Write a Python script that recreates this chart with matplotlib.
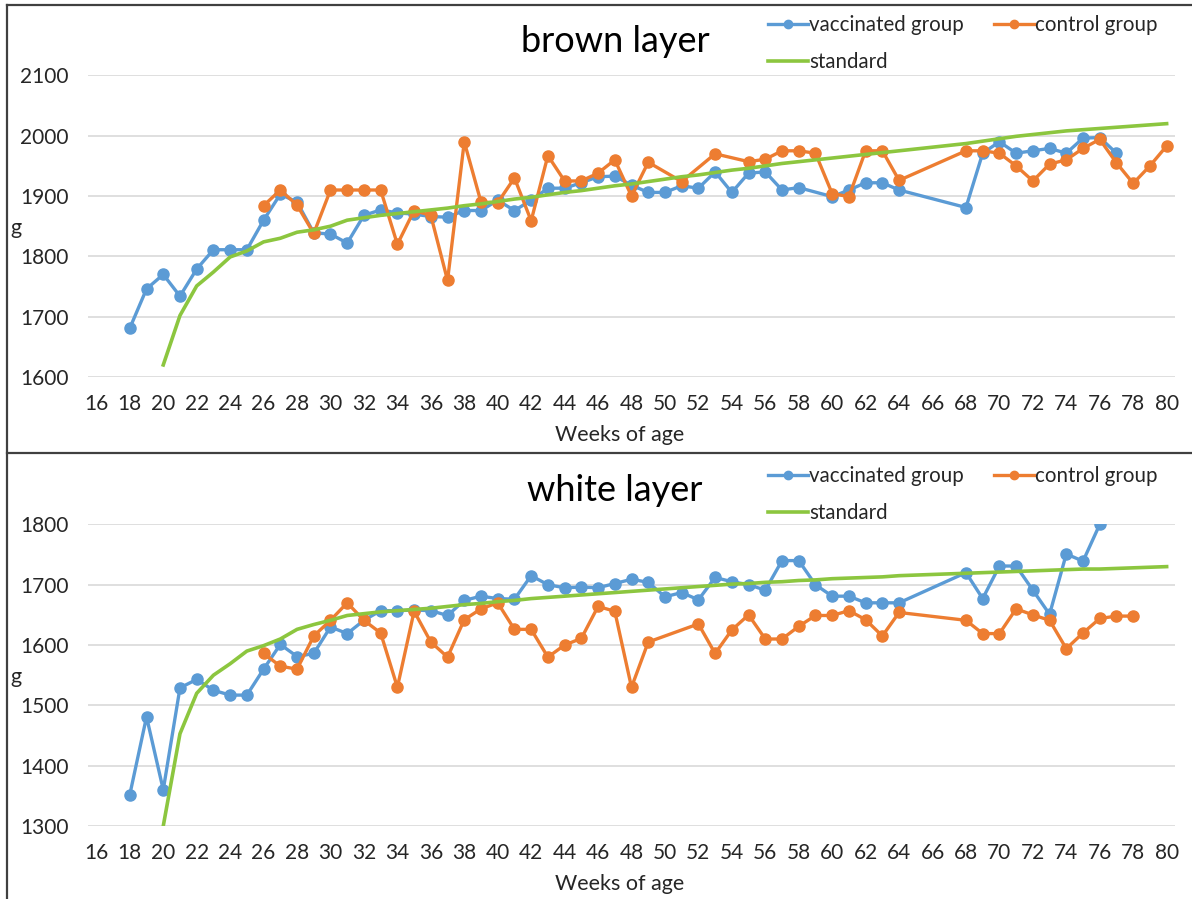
import matplotlib
matplotlib.use("Agg")
import matplotlib.pyplot as plt
from matplotlib.lines import Line2D

plt.rcParams['font.family'] = ['Lato', 'DejaVu Sans']

# Weeks shown on the category axis
all_weeks = list(range(16, 81))
tick_weeks = list(range(16, 81, 2))

# ---- brown layer ----
brown_vacc_weeks = list(range(18, 59)) + list(range(60, 65)) + list(range(68, 78))
brown_vacc = [1681, 1746, 1770, 1734, 1779, 1811, 1811, 1811, 1860, 1903,
              1890, 1839, 1837, 1822, 1868, 1877, 1872, 1870, 1866, 1865,
              1876, 1876, 1893, 1876, 1893, 1913, 1913, 1922, 1932, 1933,
              1918, 1906, 1906, 1917, 1913, 1940, 1906, 1938, 1940, 1910,
              1914,
              1899, 1910, 1922, 1922, 1910,
              1881, 1971, 1990, 1971, 1975, 1979, 1971, 1996, 1997, 1971]

brown_ctrl_weeks = (list(range(26, 50)) + [51, 53] + list(range(55, 65))
                    + list(range(68, 81)))
brown_ctrl = [1884, 1910, 1885, 1838, 1910, 1910, 1910, 1910, 1820, 1876,
              1868, 1760, 1990, 1890, 1889, 1930, 1859, 1967, 1925, 1925,
              1938, 1960, 1900, 1956,
              1924, 1970,
              1957, 1961, 1975, 1975, 1971, 1904, 1899, 1975, 1975, 1926,
              1975, 1975, 1971, 1950, 1925, 1953, 1960, 1979, 1994, 1955,
              1921, 1950, 1983]

brown_std_weeks = list(range(20, 81))
brown_std = [1620, 1702, 1751, 1774, 1799, 1809, 1824, 1830, 1840, 1844,
             1850, 1860, 1864, 1868, 1871, 1874, 1877, 1880, 1884, 1887,
             1891, 1895, 1898, 1902, 1906, 1909, 1913, 1917, 1920, 1924,
             1928, 1932, 1935, 1939, 1943, 1946, 1950, 1954, 1957, 1960,
             1963, 1966, 1969, 1972, 1975, 1978, 1981, 1984, 1987, 1991,
             1995, 1999, 2002, 2005, 2008, 2010, 2012, 2014, 2016, 2018,
             2020]

# ---- white layer ----
white_vacc_weeks = list(range(18, 65)) + list(range(68, 77))
white_vacc = [1352, 1481, 1360, 1529, 1543, 1525, 1517, 1517, 1560, 1601,
              1581, 1586, 1630, 1619, 1641, 1657, 1657, 1658, 1657, 1649,
              1674, 1681, 1677, 1676, 1715, 1700, 1695, 1696, 1695, 1702,
              1709, 1704, 1680, 1687, 1675, 1712, 1705, 1700, 1691, 1740,
              1740, 1700, 1681, 1681, 1670, 1670, 1670,
              1720, 1677, 1731, 1731, 1691, 1651, 1751, 1739, 1800]

white_ctrl_weeks = list(range(26, 50)) + list(range(52, 65)) + list(range(68, 79))
white_ctrl = [1586, 1565, 1560, 1615, 1641, 1670, 1641, 1620, 1530, 1656,
              1605, 1580, 1642, 1660, 1670, 1626, 1626, 1580, 1600, 1611,
              1664, 1656, 1530, 1605,
              1635, 1586, 1625, 1650, 1610, 1610, 1631, 1649, 1649, 1657,
              1642, 1615, 1654,
              1641, 1619, 1619, 1660, 1650, 1641, 1594, 1620, 1644, 1648,
              1648]

white_std_weeks = list(range(20, 81))
white_std = [1300, 1453, 1520, 1550, 1569, 1590, 1599, 1610, 1626, 1634,
             1641, 1649, 1652, 1655, 1657, 1659, 1661, 1664, 1667, 1669,
             1672, 1674, 1677, 1679, 1681, 1683, 1685, 1687, 1689, 1691,
             1693, 1695, 1697, 1699, 1701, 1702, 1704, 1705, 1707, 1708,
             1710, 1711, 1712, 1713, 1715, 1716, 1717, 1718, 1719, 1720,
             1721, 1722, 1723, 1724, 1725, 1726, 1726, 1727, 1728, 1729,
             1730]

BLUE = '#5B9BD5'
ORANGE = '#ED7D31'
GREEN = '#8CC63F'
TXT = '#262626'


def draw_panel(ax, title, vw, v, cw, c, sw, s, ylim, title_y, leg_y):
    ax.plot(vw, v, color=BLUE, lw=2.4, marker='o', ms=8, zorder=3)
    ax.plot(cw, c, color=ORANGE, lw=2.4, marker='o', ms=8, zorder=4)
    ax.plot(sw, s, color=GREEN, lw=2.6, zorder=5)

    ax.set_xlim(15.5, 80.5)
    ax.set_ylim(*ylim)
    ax.set_yticks(range(ylim[0], ylim[1] + 1, 100))
    ax.set_xticks(tick_weeks)
    ax.grid(axis='y', color='#D9D9D9', lw=1.2)
    ax.set_axisbelow(True)
    for sp in ax.spines.values():
        sp.set_visible(False)
    ax.tick_params(length=0, labelsize=15, colors=TXT)
    ax.tick_params(axis='y', pad=14)
    ax.tick_params(axis='x', pad=12)

    fig.text(615 / 1192, 1 - title_y / 899, title, fontsize=26,
             ha='center', va='center', color='black')

    # legend laid out in rows: vaccinated, control / standard
    h_v = Line2D([], [], color=BLUE, lw=2.4, marker='o', ms=6)
    h_c = Line2D([], [], color=ORANGE, lw=2.4, marker='o', ms=6)
    h_s = Line2D([], [], color=GREEN, lw=2.6)
    ax.legend([h_v, h_s, h_c], ['vaccinated group', 'standard', 'control group'],
              ncol=2, loc='upper left', frameon=False, fontsize=14.8,
              bbox_to_anchor=(768 / 1192, 1 - leg_y / 899),
              bbox_transform=fig.transFigure, handlelength=1.95,
              handletextpad=0.05, columnspacing=1.45, labelspacing=0.85,
              borderpad=0, borderaxespad=0, labelcolor=TXT)


fig = plt.figure(figsize=(11.92, 8.99), dpi=100)

ax1 = fig.add_axes([88 / 1192, 1 - 377 / 899, 1087 / 1192, 301.6 / 899])
ax2 = fig.add_axes([88 / 1192, 1 - 826 / 899, 1087 / 1192, 301.6 / 899])

draw_panel(ax1, 'brown layer', brown_vacc_weeks, brown_vacc,
           brown_ctrl_weeks, brown_ctrl, brown_std_weeks, brown_std,
           (1600, 2100), 42, 15)
draw_panel(ax2, 'white layer', white_vacc_weeks, white_vacc,
           white_ctrl_weeks, white_ctrl, white_std_weeks, white_std,
           (1300, 1800), 490, 466)

# axis titles
for y_lab, y_g in [(435, 228), (884, 677)]:
    fig.text(620 / 1192, 1 - y_lab / 899, 'Weeks of age', fontsize=15.5,
             ha='center', va='center', color=TXT)
    fig.text(16 / 1192, 1 - y_g / 899, 'g', fontsize=15.5,
             ha='center', va='center', color=TXT)

# panel frames
frame = dict(color='#404040', lw=1.6, transform=fig.transFigure)
fig.add_artist(Line2D([7 / 1192, 1], [1 - 5 / 899, 1 - 5 / 899], **frame))
fig.add_artist(Line2D([7 / 1192, 1], [1 - 453 / 899, 1 - 453 / 899], **frame))
fig.add_artist(Line2D([7 / 1192, 7 / 1192], [0, 1 - 5 / 899], **frame))

fig.savefig('out.png', dpi=100)
